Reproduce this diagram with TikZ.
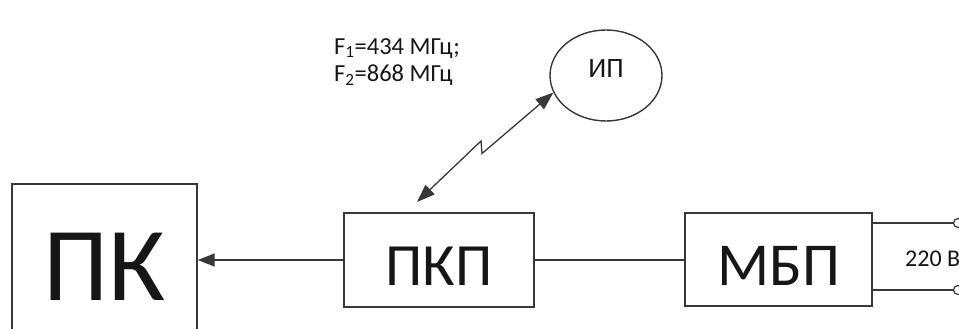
\documentclass[tikz,border=0pt]{standalone}
\usepackage{fontspec}
\setmainfont{Carlito}
\usetikzlibrary{arrows.meta,shapes.geometric}
\definecolor{ink}{HTML}{161616}
\definecolor{wire}{HTML}{383838}

\begin{document}
\begin{tikzpicture}[x=1pt,y=-1pt,
  block/.style={draw=wire,line width=1.4pt,text=ink,inner sep=0pt},
  wireline/.style={draw=wire,line width=1.4pt},
  jack/.style={circle,draw=wire,line width=1.2pt,fill=white,minimum size=9pt,inner sep=0pt}]
\useasboundingbox (0,0) rectangle (959,329);

% blocks
\node[block,minimum width=185pt,minimum height=166pt,
  font=\fontsize{105}{105}\selectfont] (pk) at (104.5,267) {ПК};
\node[block,minimum width=190pt,minimum height=94pt,text height=51pt,
  font=\fontsize{60}{60}\selectfont] (pkp) at (439,260) {ПКП};
\node[block,minimum width=187pt,minimum height=93pt,text height=51pt,
  font=\fontsize{61}{61}\selectfont] (mbp) at (778.5,259.5) {МБП};
\node[block,ellipse,minimum width=112pt,minimum height=91pt,text depth=13pt,
  font=\fontsize{28}{28}\selectfont] (ip) at (606,75.5) {ИП};

% labels
\node[text=ink,inner sep=0pt,align=left,anchor=base west,
  font=\fontsize{24.5}{27.5}\selectfont] (freq) at (334,81.7)
  {F\textsubscript{1}=434 МГц;\\F\textsubscript{2}=868 МГц};
\node[text=ink,inner sep=0pt,anchor=base west,
  font=\fontsize{24}{24}\selectfont] (volt) at (905,266) {220 В};

% connections
\draw[wireline,-{Triangle[length=17pt,width=13pt]}] (pkp.west) -- (pkp.west -| pk.east);
\draw[wireline] (pkp.east) -- (pkp.east -| mbp.west);

% mains terminals
\node[jack] (jack1) at (958,223) {};
\node[jack] (jack2) at (958,290) {};
\draw[wireline] (jack1 -| mbp.east) -- (jack1.west);
\draw[wireline] (jack2 -| mbp.east) -- (jack2.west);

% radio link
\coordinate (rx) at (417,202);
\coordinate (brk) at (481,147.5);
\draw[wireline,line width=1.3pt,{Triangle[length=18pt,width=13pt]}-{Triangle[length=18pt,width=13pt]}]
  (rx) -- ([shift={(0,-6.5)}]brk) -- ([shift={(1,6)}]brk) -- (ip.198);
\end{tikzpicture}
\end{document}
